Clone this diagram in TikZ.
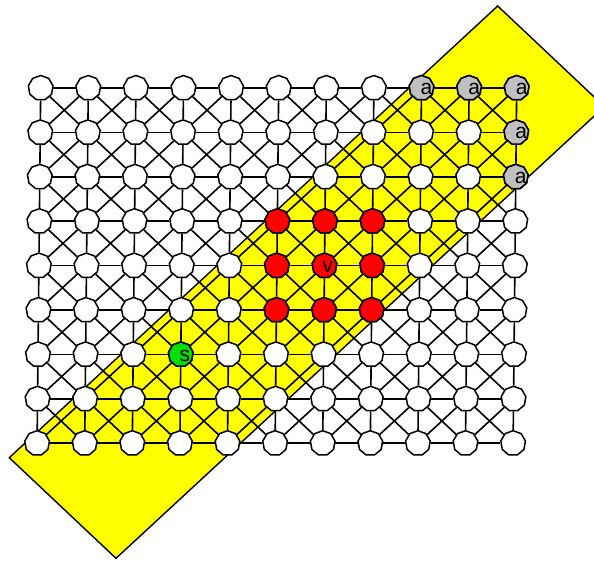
\documentclass[tikz,border=0pt]{standalone}
\usepackage{fontspec}
\setmainfont{Liberation Sans}
\usetikzlibrary{shapes.geometric, backgrounds}
\definecolor{bandyellow}{HTML}{FFFF00}
\definecolor{hotred}{HTML}{FF0000}
\definecolor{srcgreen}{HTML}{00E000}
\definecolor{anchorgray}{HTML}{C0C0C0}
\tikzset{
  vtx/.style={regular polygon, regular polygon sides=9, draw=black, fill=#1,
              line width=1.5pt, minimum size=25pt, inner sep=0pt},
  vtx/.default=white,
  tag/.style={font=\fontsize{21}{21}\selectfont, inner sep=0pt},
  link/.style={line width=1.6pt, draw=black},
  band/.style={draw=black, fill=bandyellow, line width=1.4pt},
}

\begin{document}
\begin{tikzpicture}[x=1pt, y=-1pt]
  \useasboundingbox (0,0) rectangle (594,561);
  \clip (0,0) rectangle (594,561);

  % Grid vertices
  \foreach \i in {0,...,10}
    \foreach \j in {0,...,8}
      \node[vtx] (n-\i-\j) at ({40.7+47.6*\i-0.45*\j}, {88+44.4*\j}) {};

  % Red block around v
  \foreach \i/\j in {5/3, 6/3, 7/3, 5/4, 7/4, 5/5, 6/5, 7/5}
    \node[vtx=hotred] (hot-\i-\j) at (n-\i-\j) {};
  \node[vtx=hotred, label={[tag, xshift=3pt, yshift=-1pt]center:v}] (v) at (n-6-4) {};

  % Source
  \node[vtx=srcgreen, label={[tag, xshift=4pt, yshift=-2pt]center:s}] (s) at (n-3-6) {};

  % Gray corner nodes
  \foreach \i/\j in {8/0, 9/0, 10/0, 10/1, 10/2}
    \node[vtx=anchorgray, label={[tag, xshift=5pt, yshift=-1pt]center:a}] (a-\i-\j) at (n-\i-\j) {};

  % Band and links behind the vertices
  \begin{scope}[on background layer]
    \path[band] (9.3,457.7) -- (497.7,6) -- (604.4,106.6) -- (116,558.3) -- cycle;
    \foreach \i in {0,...,9}
      \foreach \j in {0,...,8} {
        \pgfmathtruncatemacro{\k}{\i+1}
        \draw[link] (n-\i-\j) -- (n-\k-\j);
      }
    \foreach \i in {0,...,10}
      \foreach \j in {0,...,7} {
        \pgfmathtruncatemacro{\m}{\j+1}
        \draw[link] (n-\i-\j) -- (n-\i-\m);
      }
    \foreach \i in {0,...,9}
      \foreach \j in {0,...,7} {
        \pgfmathtruncatemacro{\k}{\i+1}
        \pgfmathtruncatemacro{\m}{\j+1}
        \draw[link] (n-\i-\j) -- (n-\k-\m);
        \draw[link] (n-\k-\j) -- (n-\i-\m);
      }
  \end{scope}
\end{tikzpicture}
\end{document}
